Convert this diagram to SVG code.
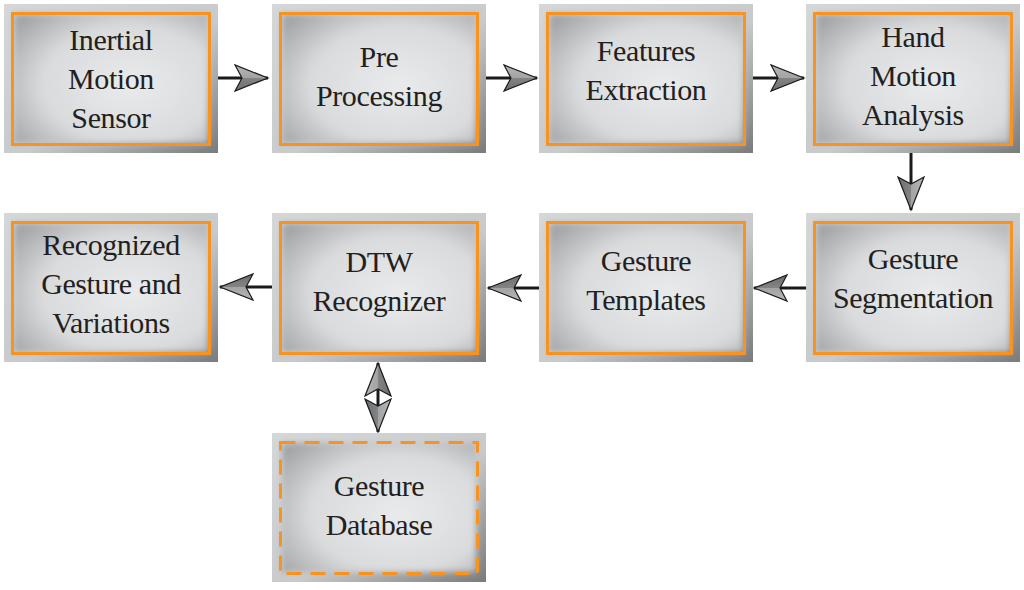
<svg xmlns="http://www.w3.org/2000/svg" width="1024" height="590" viewBox="0 0 1024 590">
<style>
.frame{fill:url(#outerGrad);}
.face{fill:url(#faceGrad);filter:url(#soft);}
.edge{fill:none;stroke:#f7931e;stroke-width:3;}
.dash{stroke-dasharray:15 9;}
.lbl{font-family:Liberation Serif, Times New Roman, Times, serif;font-size:30px;fill:#231f20;text-anchor:middle;letter-spacing:-0.4px;}
.conn{stroke:#1a1a1a;stroke-width:3;fill:none;}
</style>
<defs>
<linearGradient id="outerGrad" x1="0" y1="0" x2="1" y2="1">
<stop offset="0" stop-color="#d6d7d9"/>
<stop offset="0.55" stop-color="#c9cacc"/>
<stop offset="1" stop-color="#7a7b7d"/>
</linearGradient>
<radialGradient id="faceGrad" cx="0.6" cy="0.55" r="0.75">
<stop offset="0" stop-color="#e9eaec"/>
<stop offset="0.6" stop-color="#dadbdd"/>
<stop offset="1" stop-color="#a3a4a6"/>
</radialGradient>
<filter id="soft" x="-10%" y="-10%" width="120%" height="120%">
<feGaussianBlur stdDeviation="3"/>
</filter>
<linearGradient id="headGrad" x1="0" y1="0" x2="0" y2="1">
<stop offset="0" stop-color="#b5b6b8"/>
<stop offset="0.5" stop-color="#a2a3a5"/>
<stop offset="0.5" stop-color="#838486"/>
<stop offset="1" stop-color="#6c6d6f"/>
</linearGradient>
<marker id="head" viewBox="-35 -15 37 30" refX="0" refY="0" markerWidth="37" markerHeight="30" markerUnits="userSpaceOnUse" orient="auto-start-reverse">
<path d="M0,0 L-33,-13 L-26,0 L-33,13 Z" fill="url(#headGrad)" stroke="#1a1a1a" stroke-width="1.2" stroke-linejoin="miter"/>
</marker>
</defs>
<rect width="1024" height="590" fill="#ffffff"/>

<g id="connectors">
<line class="conn" x1="218" y1="78" x2="268" y2="78" marker-end="url(#head)"/>
<line class="conn" x1="486" y1="78" x2="537" y2="78" marker-end="url(#head)"/>
<line class="conn" x1="752" y1="78" x2="804" y2="78" marker-end="url(#head)"/>
<line class="conn" x1="911" y1="153" x2="911" y2="210" marker-end="url(#head)"/>
<line class="conn" x1="806" y1="288" x2="754" y2="288" marker-end="url(#head)"/>
<line class="conn" x1="539" y1="288" x2="488" y2="288" marker-end="url(#head)"/>
<line class="conn" x1="272" y1="287" x2="220" y2="287" marker-end="url(#head)"/>
<line class="conn" x1="378" y1="363" x2="378" y2="432" marker-start="url(#head)" marker-end="url(#head)"/>
</g>

<g id="inertial">
<rect class="frame" x="4" y="4" width="214" height="149"/>
<rect class="face" x="14" y="14" width="194" height="129"/>
<rect class="edge" x="12.5" y="13.5" width="197" height="131"/>
<text class="lbl" x="111" y="50">Inertial</text>
<text class="lbl" x="111" y="89">Motion</text>
<text class="lbl" x="111" y="128">Sensor</text>
</g>

<g id="preprocessing">
<rect class="frame" x="272" y="4" width="214" height="149"/>
<rect class="face" x="282" y="14" width="194" height="129"/>
<rect class="edge" x="280.5" y="13.5" width="197" height="131"/>
<text class="lbl" x="379" y="67">Pre</text>
<text class="lbl" x="379" y="106">Processing</text>
</g>

<g id="features">
<rect class="frame" x="539" y="4" width="214" height="149"/>
<rect class="face" x="549" y="14" width="194" height="129"/>
<rect class="edge" x="547.5" y="13.5" width="197" height="131"/>
<text class="lbl" x="646" y="61">Features</text>
<text class="lbl" x="646" y="100">Extraction</text>
</g>

<g id="handmotion">
<rect class="frame" x="806" y="4" width="214" height="149"/>
<rect class="face" x="816" y="14" width="194" height="129"/>
<rect class="edge" x="814.5" y="13.5" width="197" height="131"/>
<text class="lbl" x="913" y="47">Hand</text>
<text class="lbl" x="913" y="86">Motion</text>
<text class="lbl" x="913" y="125">Analysis</text>
</g>

<g id="segmentation">
<rect class="frame" x="806" y="213" width="214" height="149"/>
<rect class="face" x="816" y="223" width="194" height="129"/>
<rect class="edge" x="814.5" y="222.5" width="197" height="131"/>
<text class="lbl" x="913" y="269">Gesture</text>
<text class="lbl" x="913" y="308">Segmentation</text>
</g>

<g id="templates">
<rect class="frame" x="539" y="213" width="214" height="149"/>
<rect class="face" x="549" y="223" width="194" height="129"/>
<rect class="edge" x="547.5" y="222.5" width="197" height="131"/>
<text class="lbl" x="646" y="271">Gesture</text>
<text class="lbl" x="646" y="310">Templates</text>
</g>

<g id="dtw">
<rect class="frame" x="272" y="213" width="214" height="149"/>
<rect class="face" x="282" y="223" width="194" height="129"/>
<rect class="edge" x="280.5" y="222.5" width="197" height="131"/>
<text class="lbl" x="379" y="272">DTW</text>
<text class="lbl" x="379" y="311">Recognizer</text>
</g>

<g id="recognized">
<rect class="frame" x="4" y="213" width="214" height="149"/>
<rect class="face" x="14" y="223" width="194" height="129"/>
<rect class="edge" x="12.5" y="222.5" width="197" height="131"/>
<text class="lbl" x="111" y="255">Recognized</text>
<text class="lbl" x="111" y="294">Gesture and</text>
<text class="lbl" x="111" y="333">Variations</text>
</g>

<g id="database">
<rect class="frame" x="272" y="433" width="214" height="149"/>
<rect class="face" x="282" y="443" width="194" height="129"/>
<rect class="edge dash" x="280.5" y="442.5" width="197" height="131"/>
<text class="lbl" x="379" y="496">Gesture</text>
<text class="lbl" x="379" y="535">Database</text>
</g>
</svg>
